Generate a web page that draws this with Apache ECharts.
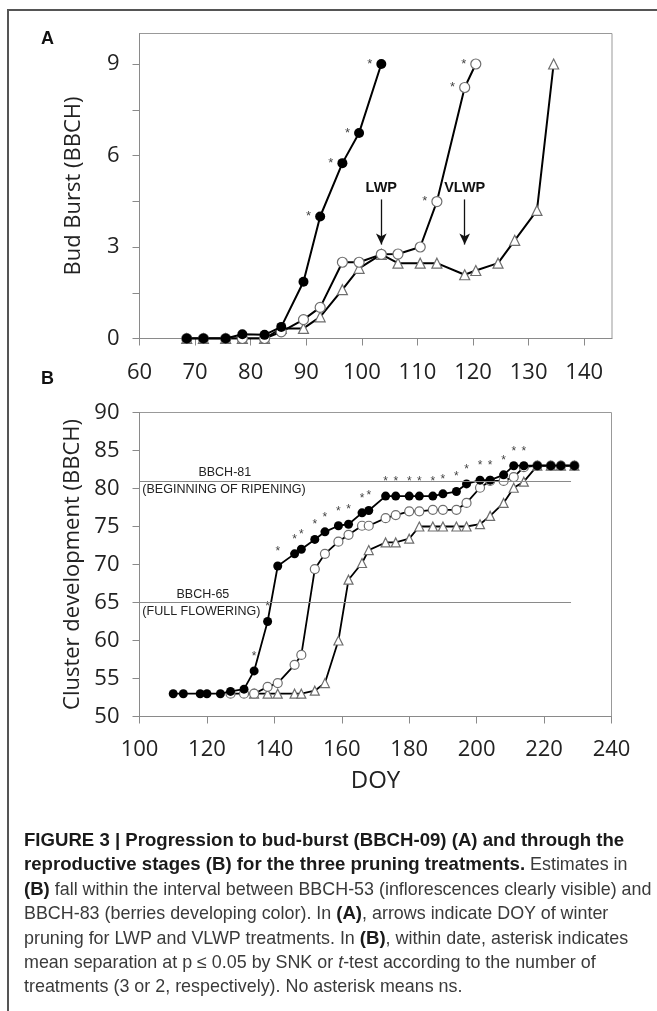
<!DOCTYPE html>
<html>
<head>
<meta charset="utf-8">
<script src="https://cdn.jsdelivr.net/npm/echarts@6/dist/echarts.min.js"></script>
<style>
html,body{margin:0;padding:0;background:#fff;}
#wrap{position:relative;width:657px;height:1011px;overflow:hidden;}
#chart{position:absolute;left:0;top:0;width:657px;height:1011px;}
#border{position:absolute;left:7px;top:9px;width:700px;height:1100px;border-top:2px solid #555;border-left:2px solid #555;}
#cap{position:absolute;left:24px;top:828px;font-family:'Liberation Sans',Arial,sans-serif;font-size:17.9px;line-height:24.4px;color:#3a3a3a;white-space:nowrap;}
#cap b{color:#1a1a1a;font-size:18.6px;}
</style>
</head>
<body>
<div id="wrap">
<div id="border"></div>
<div id="chart"></div>
<div id="cap">
<b>FIGURE 3 | Progression to bud-burst (BBCH-09) (A) and through the</b><br>
<b>reproductive stages (B) for the three pruning treatments.</b> Estimates in<br>
<b>(B)</b> fall within the interval between BBCH-53 (inflorescences clearly visible) and<br>
BBCH-83 (berries developing color). In <b>(A)</b>, arrows indicate DOY of winter<br>
pruning for LWP and VLWP treatments. In <b>(B)</b>, within date, asterisk indicates<br>
mean separation at p &le; 0.05 by SNK or <i>t</i>-test according to the number of<br>
treatments (3 or 2, respectively). No asterisk means ns.
</div>
</div>
<script>
// ---- Panel A: bud burst ----
const doyA   = [68.5, 71.5, 75.5, 78.5, 82.5, 85.5, 89.5, 92.5, 96.5, 99.5, 103.5, 106.5, 110.5, 113.5, 118.5, 120.5, 124.5, 127.5, 131.5, 134.5];
const ctrlA  = [0, 0, 0, 0.14, 0.12, 0.38, 1.86, 4.0, 5.75, 6.74, 9.0, null, null, null, null, null, null, null, null, null];
const lwpA   = [0, 0, 0, 0, 0, 0.22, 0.62, 1.02, 2.5, 2.5, 2.76, 2.77, 3.0, 4.49, 8.23, 9.0, null, null, null, null];
const vlwpA  = [0, 0, 0, 0, 0, 0.33, 0.33, 0.71, 1.6, 2.3, 2.76, 2.47, 2.47, 2.47, 2.09, 2.23, 2.47, 3.22, 4.2, 9.0];
const sigCtrlA = [0,0,0,0,0,0,0,1,1,1,1,0,0,0,0,0,0,0,0,0];
const sigLwpA  = [0,0,0,0,0,0,0,0,0,0,0,0,0,1,1,1,0,0,0,0];
const xTicksA = [60, 70, 80, 90, 100, 110, 120, 130, 140];
const yTicksA = [0, 1.5, 3, 4.5, 6, 7.5, 9];
const yLabelsA = [0, 3, 6, 9];
const arrowsA = [{name: 'LWP', doy: 103.5, top: 4.56, tip: 3.08}, {name: 'VLWP', doy: 118.5, top: 4.56, tip: 3.08}];

// ---- Panel B: cluster development ----
const doyB  = [110,113,118,120,124,127,131,134,138,141,146,148,152,155,159,162,166,168,173,176,180,183,187,190,194,197,201,204,208,211,214,218,222,225,229];
const ctrlB = [53,53,53,53,53,53.3,53.6,56.0,62.5,69.8,71.4,72.0,73.3,74.3,75.1,75.3,76.8,77.1,79.0,79.0,79.0,79.0,79.0,79.3,79.6,80.6,81.1,81.1,81.8,83,83,83,83,83,83];
const lwpB  = [null,null,null,null,null,53,53,53,53.9,54.4,56.8,58.1,69.4,71.4,73.0,73.9,75.1,75.1,76.1,76.5,77.0,77.0,77.2,77.2,77.2,78.1,80.1,81.0,81.0,81.5,82.8,83,83,83,83];
const vlwpB = [null,null,null,null,null,null,null,53,53,53,53,53,53.4,54.4,60.0,68.0,70.2,71.9,72.9,72.9,73.4,75.0,75.0,75.0,75.0,75.0,75.3,76.4,78.1,80.1,80.9,83,83,83,83];
const sigCtrlB = [0,0,0,0,0,0,0,1,1,1,1,1,1,1,1,1,1,1,1,1,1,1,1,1,1,1,1,1,1,1,1,0,0,0,0];
const refLinesB = [{stage: 'BBCH-81', desc: '(BEGINNING OF RIPENING)', value: 81, mid: 125.3}, {stage: 'BBCH-65', desc: '(FULL FLOWERING)', value: 65, mid: 118.8}];
const refLineEndB = 228;

function pts(xs, ys, sig) {
  const out = [];
  xs.forEach((x, i) => {
    if (ys[i] == null) return;
    out.push({value: [x, ys[i]], label: {show: !!(sig && sig[i])}});
  });
  return out;
}

const chart = echarts.init(document.getElementById('chart'), null, {renderer: 'canvas'});
const FONT = "'Open Sans', sans-serif";
const axisLineStyle = {lineStyle: {color: '#8a8a8a', width: 1}};
const tickStyle = {show: true, length: 7, lineStyle: {color: '#8a8a8a', width: 1}};
const labelStyle = {color: '#222', fontFamily: FONT, fontSize: 22};

const openItem = {color: '#fff', borderColor: '#6e6e6e', borderWidth: 1.2};

const option = {
  animation: false,
  grid: [
    {left: 139.5, top: 33.5, width: 472.5, height: 305, show: true, borderColor: '#999', borderWidth: 1, backgroundColor: 'transparent'},
    {left: 139.5, top: 412.5, width: 472, height: 304, show: true, borderColor: '#999', borderWidth: 1, backgroundColor: 'transparent'}
  ],
  xAxis: [
    {type: 'value', gridIndex: 0, min: 60, max: 145, interval: 10,
     axisLine: axisLineStyle, axisTick: Object.assign({customValues: xTicksA}, tickStyle),
     axisLabel: Object.assign({margin: 23, customValues: xTicksA, formatter: v => (v % 10 === 0 && v <= 140 ? String(v) : '')}, labelStyle),
     splitLine: {show: false}},
    {type: 'value', gridIndex: 1, min: 100, max: 240, interval: 20,
     name: 'DOY', nameLocation: 'middle', nameGap: 53, nameTextStyle: {color: '#222', fontFamily: FONT, fontSize: 24},
     axisLine: axisLineStyle, axisTick: tickStyle,
     axisLabel: Object.assign({margin: 22}, labelStyle),
     splitLine: {show: false}}
  ],
  yAxis: [
    {type: 'value', gridIndex: 0, min: 0, max: 10, interval: 1.5,
     name: 'Bud Burst (BBCH)', nameLocation: 'middle', nameGap: 55, nameTextStyle: {color: '#222', fontFamily: FONT, fontSize: 22},
     axisLine: Object.assign({show: true}, axisLineStyle), axisTick: Object.assign({customValues: yTicksA}, tickStyle),
     axisLabel: Object.assign({margin: 20, customValues: yLabelsA, formatter: v => (v % 3 === 0 && v < 10 ? String(v) : '')}, labelStyle),
     splitLine: {show: false}},
    {type: 'value', gridIndex: 1, min: 50, max: 90, interval: 5,
     name: 'Cluster development (BBCH)', nameLocation: 'middle', nameGap: 55, nameTextStyle: {color: '#222', fontFamily: FONT, fontSize: 22},
     axisLine: Object.assign({show: true}, axisLineStyle), axisTick: tickStyle,
     axisLabel: Object.assign({margin: 20}, labelStyle),
     splitLine: {show: false}}
  ],
  graphic: [
    {type: 'text', left: 41, top: 30, style: {text: 'A', font: "bold 18px 'Liberation Sans', Arial", fill: '#111'}},
    {type: 'text', left: 41, top: 370, style: {text: 'B', font: "bold 18px 'Liberation Sans', Arial", fill: '#111'}}
  ],
  series: [
    // Panel A
    {name: 'VLWP', type: 'line', xAxisIndex: 0, yAxisIndex: 0, data: pts(doyA, vlwpA),
     symbol: 'triangle', symbolSize: 10, itemStyle: openItem, lineStyle: {color: '#000', width: 2}, z: 2,
     markLine: {silent: true, symbol: ['none', 'arrow'], symbolSize: [8, 11],
       lineStyle: {color: '#111', width: 1.3, type: 'solid'},
       label: {show: true, position: 'start', distance: 4, fontFamily: "'Liberation Sans', Arial", fontWeight: 'bold', fontSize: 14.5, color: '#111', formatter: p => p.name},
       data: arrowsA.map(a => [{name: a.name, coord: [a.doy, a.top]}, {coord: [a.doy, a.tip]}])}},
    {name: 'LWP', type: 'line', xAxisIndex: 0, yAxisIndex: 0, data: pts(doyA, lwpA, sigLwpA),
     symbol: 'circle', symbolSize: 10, itemStyle: openItem, lineStyle: {color: '#000', width: 2}, z: 3,
     label: {show: false, formatter: '*', position: 'left', distance: 4, fontSize: 13, color: '#444', fontFamily: "'Liberation Sans', Arial"}},
    {name: 'Control', type: 'line', xAxisIndex: 0, yAxisIndex: 0, data: pts(doyA, ctrlA, sigCtrlA),
     symbol: 'circle', symbolSize: 10, itemStyle: {color: '#000'}, lineStyle: {color: '#000', width: 2}, z: 4,
     label: {show: false, formatter: '*', position: 'left', distance: 4, fontSize: 13, color: '#444', fontFamily: "'Liberation Sans', Arial"}},
    // Panel B
    {name: 'VLWP', type: 'line', xAxisIndex: 1, yAxisIndex: 1, data: pts(doyB, vlwpB),
     symbol: 'triangle', symbolSize: 9, itemStyle: openItem, lineStyle: {color: '#000', width: 1.8}, z: 2,
     markLine: {silent: true, symbol: ['none', 'none'], lineStyle: {color: '#8a8a8a', width: 1, type: 'solid'}, label: {show: false},
       data: refLinesB.map(r => [{coord: [100, r.value]}, {coord: [refLineEndB, r.value]}])},
     markPoint: {silent: true, symbol: 'circle', symbolSize: 1, itemStyle: {color: 'rgba(0,0,0,0)'},
       data: refLinesB.flatMap(r => [
         {coord: [r.mid, r.value], label: {show: true, formatter: r.stage, position: 'top', distance: 1, fontFamily: "'Liberation Sans', Arial", fontSize: 12.5, color: '#222'}},
         {coord: [101, r.value], label: {show: true, formatter: r.desc, position: [0, 3], align: 'left', verticalAlign: 'top', fontFamily: "'Liberation Sans', Arial", fontSize: 12.5, color: '#222'}}
       ])}},
    {name: 'LWP', type: 'line', xAxisIndex: 1, yAxisIndex: 1, data: pts(doyB, lwpB),
     symbol: 'circle', symbolSize: 9, itemStyle: openItem, lineStyle: {color: '#000', width: 1.8}, z: 3},
    {name: 'Control', type: 'line', xAxisIndex: 1, yAxisIndex: 1, data: pts(doyB, ctrlB, sigCtrlB),
     symbol: 'circle', symbolSize: 9, itemStyle: {color: '#000'}, lineStyle: {color: '#000', width: 1.8}, z: 4,
     label: {show: false, formatter: '*', position: 'top', distance: 4, fontSize: 12, color: '#444', fontFamily: "'Liberation Sans', Arial"}}
  ]
};
chart.setOption(option);
</script>
</body>
</html>
